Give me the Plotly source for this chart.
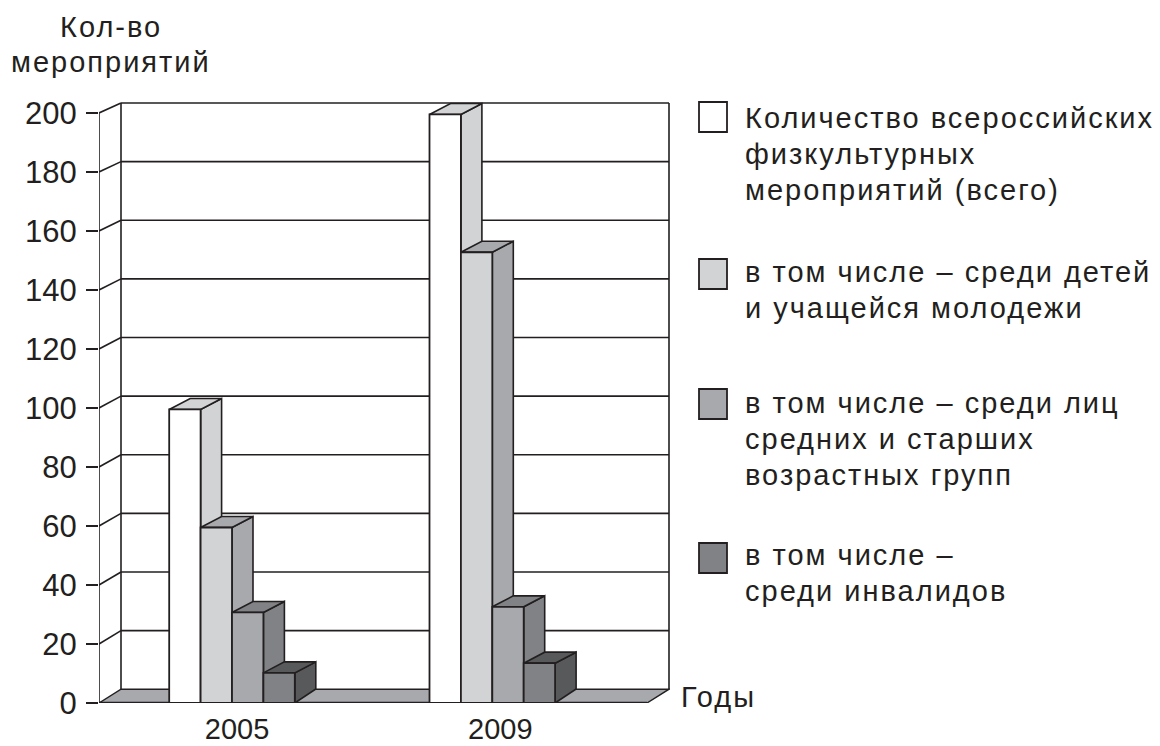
import plotly.graph_objects as go

years = ["2005", "2009"]
series_names = ["Количество всероссийских физкультурных мероприятий (всего)",
                "в том числе – среди детей и учащейся молодежи",
                "в том числе – среди лиц средних и старших возрастных групп",
                "в том числе – среди инвалидов"]
total = [99.5, 199.5]
youth = [59.5, 152.8]
older = [30.7, 32.6]
disabled = [10.2, 13.5]
y_ticks = [0, 20, 40, 60, 80, 100, 120, 140, 160, 180, 200]
legend_lines = [["Количество всероссийских", "физкультурных", "мероприятий (всего)"],
                ["в том числе – среди детей", "и учащейся молодежи"],
                ["в том числе – среди лиц", "средних и старших", "возрастных групп"],
                ["в том числе –", "среди инвалидов"]]
title_lines = ["Кол-во", "мероприятий"]

series = [total, youth, older, disabled]
front = ["#ffffff", "#d1d3d4", "#a7a9ac", "#808285"]
faces = ["#d1d3d4", "#a7a9ac", "#808285", "#58595b"]
INK = "#231f20"
FONT = "Liberation Sans"
SPACING = 2  # px of letter spacing added after layout, grows text evenly about its centre

# pixel geometry of the plotting frame
L, R, T, B = 99, 670, 102, 703
PXX, PXY = 260.3, 2.95
X0 = 232.0
def dx(px): return px / PXX
def dy(px): return px / PXY
def xpx(px): return (px - X0) / PXX
xr = [xpx(L), xpx(R)]
yr = [0, (B - T) / PXY]
def back(v): return v * 0.9936 + dy(13.8)
def px(p): return (p - L) / (R - L)
def py(p): return (B - p) / (B - T)

shapes = []
def line(x0, y0, x1, y1, w=1.6):
    shapes.append(dict(type="line", xref="x", yref="y", x0=x0, y0=y0, x1=x1, y1=y1,
                       layer="below", line=dict(color=INK, width=w)))
def poly(pts, fill, w=1.6):
    path = "M " + " L ".join(f"{a},{b}" for a, b in pts) + " Z"
    shapes.append(dict(type="path", xref="x", yref="y", path=path, fillcolor=fill,
                       layer="below", line=dict(color=INK, width=w)))

fl, fr = xpx(L), xpx(647)
bl, br = xpx(121), xpx(669)
for v in y_ticks:
    if v > 0:
        line(fl, v, bl, back(v))
        line(bl, back(v), br, back(v))
line(bl, back(0), bl, back(200))
line(br, back(0), br, back(200))
poly([(fl, 0), (fr, 0), (br, back(0)), (bl, back(0))], "#a7a9ac", 1.4)
line(fl, 0, fl, 200)
line(xpx(87), 0, fr, 0, 2.4)

# bar side and top faces, computed from the values
bw = 31.4 / PXX
ddx, ddy = dx(21), dy(11)
for g in range(len(years)):
    for i, s in enumerate(series):
        x0 = g + (i - 2) * bw
        x1 = x0 + bw
        v = s[g]
        poly([(x1, 0), (x1 + ddx, dy(14)), (x1 + ddx, v + ddy), (x1, v)], faces[i])
        poly([(x0, v), (x0 + ddx, v + ddy), (x1 + ddx, v + ddy), (x1, v)], faces[i])

fig = go.Figure()
for i, s in enumerate(series):
    fig.add_bar(x=[0, 1], y=s, name=series_names[i], marker=dict(color=front[i], line=dict(color=INK, width=1.8)),
                showlegend=False)

annotations = []
def text(t, x, y, size=29, xanchor="left"):
    # left-anchored text: spacing spreads both ways, so shift by half its added width
    shift = len(t) * SPACING / 2 if xanchor == "left" else 0
    annotations.append(dict(text=t, xref="paper", yref="paper", x=px(x + shift), y=py(y), xanchor=xanchor,
                            yanchor="middle", showarrow=False,
                            font=dict(family=FONT, size=size, color=INK)))

swatch_tops = [102, 259, 389, 543]
first_line = [118, 272, 403, 555]
for i in range(4):
    t = swatch_tops[i]
    shapes.append(dict(type="rect", xref="paper", yref="paper", x0=px(699), x1=px(727), y0=py(t), y1=py(t + 30),
                       fillcolor=front[i], line=dict(color=INK, width=1.8)))
    for k, ln in enumerate(legend_lines[i]):
        text(ln, 742.5, first_line[i] + 36 * k)
text(title_lines[0], 111, 27, xanchor="center")
text(title_lines[1], 111, 62, xanchor="center")
text("Годы", 679, 697)

fig.update_layout(
    width=1160, height=746, margin=dict(l=L, r=1160 - R, t=T, b=746 - B),
    paper_bgcolor="white", plot_bgcolor="white", barmode="group", bargroupgap=0,
    bargap=1 - 4 * bw,
    shapes=shapes, annotations=annotations, showlegend=False,
    font=dict(family=FONT, color=INK),
)
fig.update_xaxes(range=xr, tickvals=[dx(5), 1 + dx(8)], ticktext=years, showgrid=False, zeroline=False, showline=False,
                 ticks="", tickfont=dict(family=FONT, size=29, color=INK), ticklabelstandoff=6, automargin=False)
fig.update_yaxes(range=yr, tickvals=y_ticks, showgrid=False, zeroline=False, showline=False,
                 ticks="outside", ticklen=12, tickwidth=1.6, tickcolor=INK,
                 tickfont=dict(family=FONT, size=31, color=INK), ticklabelstandoff=3, automargin=False)
fig.write_html("out.html", config=dict(displayModeBar=False),
               post_script="document.body.style.margin='0';"
                           "document.querySelectorAll('.annotation-text').forEach(function(t){t.style.letterSpacing='%dpx';});" % SPACING)
